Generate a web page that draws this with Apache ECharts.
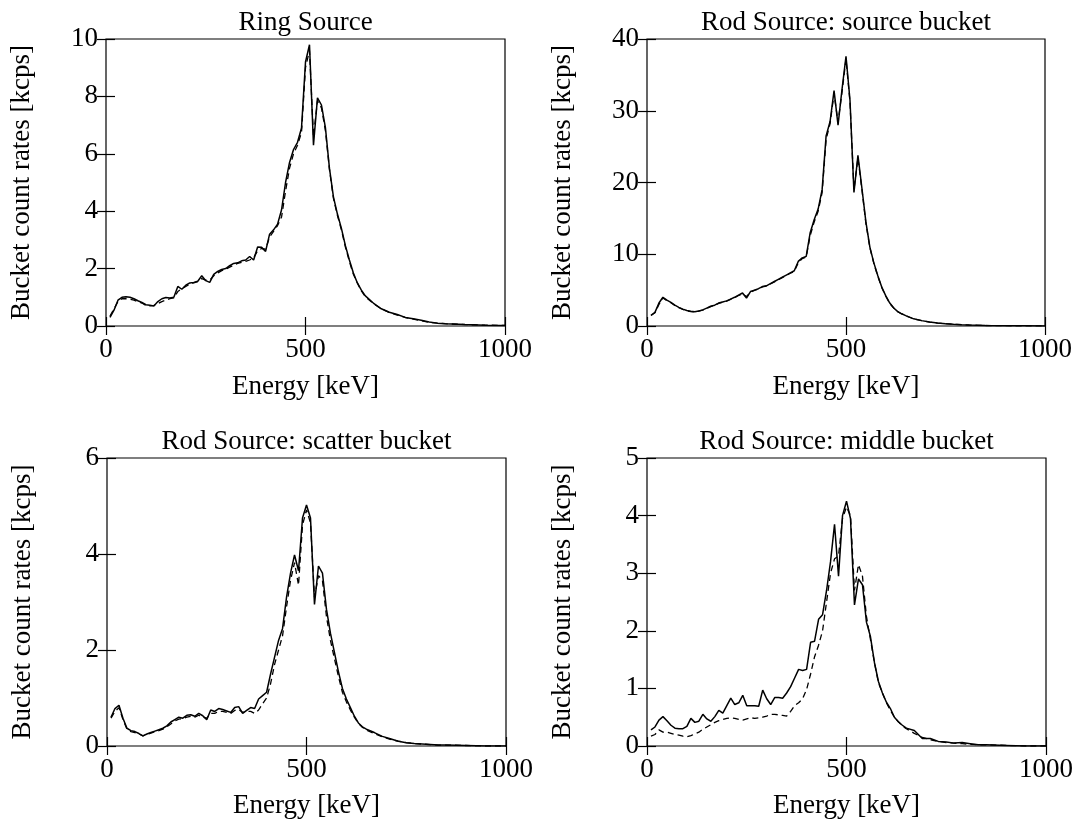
<!DOCTYPE html>
<html>
<head>
<meta charset="utf-8">
<script src="https://cdn.jsdelivr.net/npm/echarts@6/dist/echarts.min.js"></script>
<style>
  html, body { margin: 0; padding: 0; background: #fff; }
  #main { width: 1081px; height: 826px; }
</style>
</head>
<body>
<div id="main"></div>
<script>
const energy = [10, 20, 30, 40, 50, 60, 70, 80, 90, 100,
  110, 120, 130, 140, 150, 160, 170, 180, 190, 200,
  210, 220, 230, 240, 250, 260, 270, 280, 290, 300,
  310, 320, 330, 340, 350, 360, 370, 380, 390, 400,
  410, 420, 430, 440, 450, 460, 470, 480, 490, 500,
  510, 520, 530, 540, 550, 560, 570, 580, 590, 600,
  610, 620, 630, 640, 650, 670, 690, 710, 730, 750,
  770, 790, 810, 830, 850, 900, 950, 1000];

const ringSolid = [0.3, 0.55, 0.9, 1.0, 1.02, 1.0, 0.95, 0.88, 0.82, 0.74,
  0.72, 0.7, 0.85, 0.95, 0.99, 0.98, 1.0, 1.38, 1.28, 1.42,
  1.5, 1.52, 1.56, 1.75, 1.58, 1.52, 1.8, 1.9, 1.97, 2.0,
  2.1, 2.18, 2.2, 2.27, 2.3, 2.42, 2.3, 2.75, 2.74, 2.6,
  3.2, 3.35, 3.55, 4.05, 5.0, 5.7, 6.15, 6.4, 6.9, 9.2,
  9.8, 6.3, 7.95, 7.7, 6.9, 5.5, 4.5, 3.9, 3.4, 2.8,
  2.3, 1.85, 1.5, 1.25, 1.05, 0.8, 0.6, 0.48, 0.4, 0.3,
  0.25, 0.2, 0.14, 0.1, 0.08, 0.05, 0.03, 0.02];
const ringDashed = [0.35, 0.6, 0.85, 0.95, 0.95, 0.93, 0.9, 0.85, 0.8, 0.72,
  0.7, 0.72, 0.78, 0.85, 0.9, 0.95, 0.98, 1.2, 1.3, 1.38,
  1.45, 1.5, 1.55, 1.65, 1.6, 1.6, 1.75, 1.85, 1.93, 1.98,
  2.05, 2.12, 2.18, 2.22, 2.25, 2.3, 2.38, 2.62, 2.7, 2.68,
  3.1, 3.3, 3.5, 3.8, 4.7, 5.5, 6.0, 6.3, 6.75, 9.0,
  9.6, 6.6, 7.85, 7.6, 6.8, 5.45, 4.45, 3.85, 3.35, 2.75,
  2.25, 1.8, 1.5, 1.22, 1.02, 0.78, 0.6, 0.47, 0.38, 0.3,
  0.24, 0.18, 0.13, 0.1, 0.08, 0.05, 0.03, 0.02];

const sourceSolid = [1.5, 1.9, 3.2, 4.0, 3.6, 3.3, 2.9, 2.6, 2.35, 2.15,
  2.05, 2.0, 2.1, 2.25, 2.5, 2.75, 2.9, 3.2, 3.35, 3.5,
  3.75, 4.0, 4.3, 4.6, 3.9, 4.8, 5.0, 5.2, 5.5, 5.6,
  5.9, 6.2, 6.5, 6.8, 7.1, 7.4, 7.7, 9.0, 9.5, 9.7,
  13.0, 14.8, 16.3, 19.0, 26.5, 28.5, 32.8, 28.0, 33.0, 37.6,
  31.5, 18.6, 23.8, 19.2, 14.5, 11.0, 8.8, 7.0, 5.4, 4.2,
  3.2, 2.5, 2.0, 1.7, 1.45, 1.0, 0.75, 0.55, 0.42, 0.33,
  0.25, 0.18, 0.13, 0.1, 0.07, 0.04, 0.02, 0.01];
const sourceDashed = [1.45, 1.85, 3.0, 3.9, 3.55, 3.25, 2.85, 2.55, 2.3, 2.1,
  2.0, 1.98, 2.08, 2.2, 2.45, 2.7, 2.88, 3.15, 3.3, 3.45,
  3.7, 3.95, 4.25, 4.45, 4.1, 4.7, 4.95, 5.15, 5.45, 5.55,
  5.85, 6.15, 6.45, 6.75, 7.05, 7.35, 7.6, 8.8, 9.4, 9.6,
  12.6, 14.5, 16.0, 18.6, 26.0, 28.2, 32.4, 28.4, 32.6, 37.2,
  31.2, 19.0, 23.4, 19.0, 14.3, 10.9, 8.7, 6.9, 5.35, 4.15,
  3.15, 2.5, 2.0, 1.68, 1.43, 1.0, 0.74, 0.54, 0.41, 0.32,
  0.24, 0.18, 0.13, 0.1, 0.07, 0.04, 0.02, 0.01];

const scatterSolid = [0.6, 0.78, 0.85, 0.58, 0.37, 0.32, 0.3, 0.26, 0.21, 0.25,
  0.28, 0.31, 0.34, 0.37, 0.42, 0.5, 0.55, 0.6, 0.58, 0.64,
  0.65, 0.62, 0.68, 0.63, 0.55, 0.75, 0.72, 0.78, 0.76, 0.73,
  0.7, 0.8, 0.82, 0.68, 0.74, 0.8, 0.78, 0.98, 1.05, 1.12,
  1.5, 1.85, 2.2, 2.45, 3.1, 3.6, 3.98, 3.65, 4.75, 5.02,
  4.75, 2.95, 3.75, 3.6, 2.85, 2.35, 1.95, 1.55, 1.2, 0.98,
  0.8, 0.62, 0.48, 0.4, 0.35, 0.28, 0.2, 0.15, 0.1, 0.07,
  0.05, 0.04, 0.03, 0.02, 0.02, 0.01, 0, 0];
const scatterDashed = [0.58, 0.72, 0.8, 0.55, 0.35, 0.3, 0.28, 0.25, 0.21, 0.24,
  0.27, 0.3, 0.32, 0.35, 0.4, 0.46, 0.52, 0.56, 0.57, 0.6,
  0.62, 0.6, 0.64, 0.6, 0.58, 0.68, 0.68, 0.72, 0.72, 0.7,
  0.68, 0.74, 0.76, 0.7, 0.72, 0.72, 0.68, 0.75, 0.88, 1.0,
  1.3, 1.7, 2.0, 2.3, 2.9, 3.45, 3.82, 3.35, 4.6, 4.92,
  4.65, 3.1, 3.55, 3.45, 2.7, 2.2, 1.82, 1.45, 1.12, 0.92,
  0.75, 0.6, 0.47, 0.39, 0.33, 0.26, 0.19, 0.14, 0.1, 0.07,
  0.05, 0.04, 0.03, 0.02, 0.02, 0.01, 0, 0];

const middleSolid = [0.28, 0.33, 0.45, 0.51, 0.44, 0.36, 0.31, 0.3, 0.3, 0.34,
  0.48, 0.41, 0.43, 0.55, 0.47, 0.43, 0.51, 0.62, 0.57, 0.7,
  0.83, 0.72, 0.75, 0.88, 0.7, 0.7, 0.7, 0.69, 0.97, 0.82,
  0.72, 0.84, 0.84, 0.83, 0.92, 1.03, 1.18, 1.33, 1.31, 1.33,
  1.8, 1.82, 2.2, 2.28, 2.7, 3.2, 3.85, 2.95, 4.0, 4.25,
  3.95, 2.45, 2.9, 2.8, 2.15, 1.9, 1.45, 1.12, 0.92, 0.76,
  0.65, 0.5, 0.42, 0.36, 0.31, 0.27, 0.13, 0.13, 0.08, 0.07,
  0.05, 0.06, 0.04, 0.02, 0.02, 0.01, 0, 0];
const middleDashed = [0.17, 0.2, 0.28, 0.24, 0.24, 0.22, 0.2, 0.19, 0.17, 0.16,
  0.18, 0.21, 0.24, 0.29, 0.33, 0.37, 0.41, 0.44, 0.46, 0.48,
  0.49, 0.48, 0.46, 0.45, 0.47, 0.49, 0.48, 0.49, 0.5, 0.52,
  0.55, 0.55, 0.54, 0.53, 0.52, 0.6, 0.7, 0.75, 0.82, 0.98,
  1.25, 1.55, 1.75, 2.0, 2.5, 3.0, 3.25, 3.3, 3.95, 4.15,
  4.0, 2.7, 3.15, 2.95, 2.25, 1.85, 1.45, 1.1, 0.92, 0.75,
  0.62, 0.5, 0.42, 0.35, 0.3, 0.22, 0.15, 0.11, 0.08, 0.06,
  0.05, 0.04, 0.03, 0.02, 0.02, 0.01, 0, 0];

const titles = ['Ring Source', 'Rod Source: source bucket', 'Rod Source: scatter bucket', 'Rod Source: middle bucket'];
const yMax = [10, 40, 6, 5];
const yStep = [2, 10, 2, 1];
const xTicks = [0, 500, 1000];
const solids = [ringSolid, sourceSolid, scatterSolid, middleSolid];
const dashes = [ringDashed, sourceDashed, scatterDashed, middleDashed];

const font = 'Liberation Serif';
const ink = '#000';
const boxes = [
    {left: 106, top: 39, width: 399, height: 287},
    {left: 647, top: 39, width: 398, height: 287},
    {left: 107, top: 458, width: 399, height: 288},
    {left: 647, top: 458, width: 399, height: 288}
];

const pairs = (vals)=>energy.map((e, i)=>[e, vals[i]]);

const makeX = (i, main)=>({
    type: 'value',
    gridIndex: i,
    position: main ? 'bottom' : 'top',
    min: xTicks[0],
    max: xTicks[xTicks.length - 1],
    interval: xTicks[1] - xTicks[0],
    name: main ? 'Energy [keV]' : '',
    nameLocation: 'middle',
    nameGap: i < 2 ? 47 : 46,
    nameTextStyle: {fontFamily: font, fontSize: 27, color: ink},
    axisLine: {show: false},
    axisTick: {show: true, inside: true, length: 9, lineStyle: {color: ink, width: 1.2}},
    axisLabel: {show: main, margin: 10, fontFamily: font, fontSize: 27, color: ink, formatter: v=>String(v)},
    splitLine: {show: false}
});

const makeY = (i, main)=>({
    type: 'value',
    gridIndex: i,
    position: main ? 'left' : 'right',
    min: 0,
    max: yMax[i],
    interval: yStep[i],
    name: main ? 'Bucket count rates [kcps]' : '',
    nameLocation: 'middle',
    nameRotate: 90,
    nameGap: 71,
    nameTextStyle: {fontFamily: font, fontSize: 27, color: ink},
    axisLine: {show: false},
    axisTick: {show: true, inside: true, length: 9, lineStyle: {color: ink, width: 1.2}},
    axisLabel: {show: main, margin: 8, fontFamily: font, fontSize: 27, color: ink},
    splitLine: {show: false}
});

const chart = echarts.init(document.getElementById('main'));
const series = [];
solids.forEach((vals, i)=>{
    series.push({
        type: 'line',
        xAxisIndex: i,
        yAxisIndex: i,
        data: pairs(dashes[i]),
        showSymbol: false,
        silent: true,
        lineStyle: {color: ink, width: 1.3, type: [6, 4]}
    });
    series.push({
        type: 'line',
        xAxisIndex: i,
        yAxisIndex: i,
        data: pairs(vals),
        showSymbol: false,
        silent: true,
        lineStyle: {color: ink, width: 1.5}
    });
});

chart.setOption({
    backgroundColor: '#fff',
    animation: false,
    grid: boxes.map(b=>Object.assign({
        show: true,
        borderColor: ink,
        borderWidth: 1.2,
        backgroundColor: 'transparent'
    }, b)),
    xAxis: [0, 1, 2, 3].map(i=>makeX(i, true)).concat([0, 1, 2, 3].map(i=>makeX(i, false))),
    yAxis: [0, 1, 2, 3].map(i=>makeY(i, true)).concat([0, 1, 2, 3].map(i=>makeY(i, false))),
    graphic: titles.map((t, i)=>({
        type: 'text',
        x: boxes[i].left + boxes[i].width / 2,
        y: boxes[i].top - 16,
        style: {
            text: t,
            fontFamily: font,
            fontSize: 27,
            fill: ink,
            align: 'center',
            verticalAlign: 'middle',
            textAlign: 'center',
            textVerticalAlign: 'middle'
        }
    })),
    series
});
</script>
</body>
</html>
